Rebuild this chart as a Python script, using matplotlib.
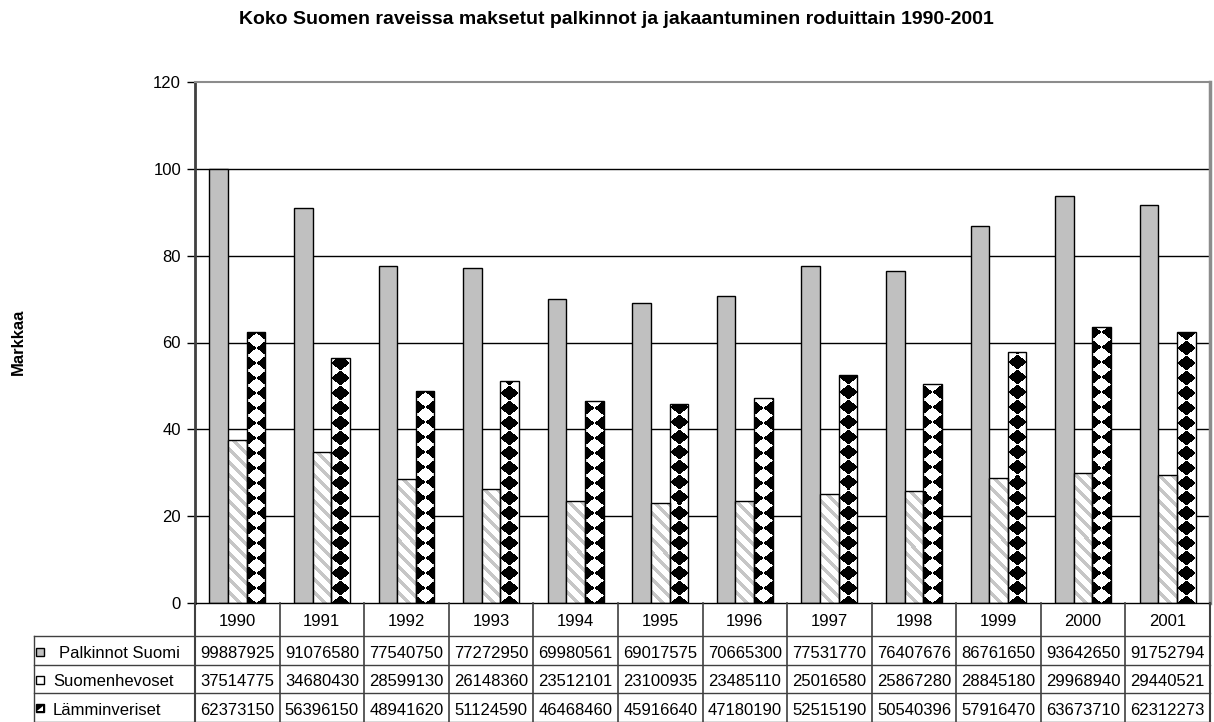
import numpy as np
import matplotlib
matplotlib.use("Agg")
import matplotlib.pyplot as plt
from matplotlib.patches import Rectangle, Polygon
from matplotlib.lines import Line2D
from matplotlib.colors import ListedColormap
import matplotlib.transforms as mtransforms

years = ["1990", "1991", "1992", "1993", "1994", "1995", "1996", "1997", "1998", "1999", "2000", "2001"]
palkinnot_suomi = [99887925, 91076580, 77540750, 77272950, 69980561, 69017575,
                   70665300, 77531770, 76407676, 86761650, 93642650, 91752794]
suomenhevoset = [37514775, 34680430, 28599130, 26148360, 23512101, 23100935,
                 23485110, 25016580, 25867280, 28845180, 29968940, 29440521]
lamminveriset = [62373150, 56396150, 48941620, 51124590, 46468460, 45916640,
                 47180190, 52515190, 50540396, 57916470, 63673710, 62312273]
series_names = ["Palkinnot Suomi", "Suomenhevoset", "Lämminveriset"]
title = "Koko Suomen raveissa maksetut palkinnot ja jakaantuminen roduittain 1990-2001"
ylabel = "Markkaa"
yticks = [0, 20, 40, 60, 80, 100, 120]

plt.rcParams['font.family'] = ['Liberation Sans', 'DejaVu Sans']

W, H = 1214, 722
fig = plt.figure(figsize=(W / 100, H / 100), dpi=100)
fig.patch.set_facecolor('white')

def fx(px):
    return px / W

def fy(py):
    return 1 - py / H

ax_l, ax_r, ax_t, ax_b = 195, 1210, 82, 603
ax = fig.add_axes([fx(ax_l), fy(ax_b), fx(ax_r - ax_l), (ax_b - ax_t) / H])
ax.set_xlim(-0.5, len(years) - 0.5)
ax.set_ylim(0, 120)

x = np.arange(len(years))
bw = 0.22
scale = 1e6
v1 = np.array(palkinnot_suomi) / scale
v2 = np.array(suomenhevoset) / scale
v3 = np.array(lamminveriset) / scale

# gridlines
for t in yticks[1:-1]:
    ax.axhline(t, color='black', lw=1.0, zorder=1)

b1 = ax.bar(x - bw, v1, bw, color='#c0c0c0', edgecolor='black', lw=1.0, zorder=2)
b2 = ax.bar(x, v2, bw, color='white', lw=0, zorder=2)
b3 = ax.bar(x + bw, v3, bw, color='white', lw=0, zorder=2)

fig.canvas.draw()

def bar_pixels(rect):
    bb = rect.get_window_extent()
    wpx = max(int(round(bb.width)), 1)
    hpx = max(int(round(bb.height)), 1)
    uu = np.arange(wpx) + 0.5 - wpx / 2.0
    vv = np.arange(hpx)[::-1] + 0.5
    U, V = np.meshgrid(uu, vv)
    return wpx, hpx, U, V

stripe_cmap = ListedColormap(['#c6c6c6', 'white'])
# light diagonal stripes for the second series
for i, rect in enumerate(b2):
    wpx, hpx, U, V = bar_pixels(rect)
    period = 13.0
    stripe = np.mod(U + V, period) < 5.0
    img = np.where(stripe, 0.0, 1.0)
    x0 = rect.get_x()
    im = ax.imshow(img, cmap=stripe_cmap, vmin=0, vmax=1,
                   extent=[x0, x0 + rect.get_width(), 0, rect.get_height()],
                   aspect='auto', interpolation='nearest', zorder=2.5)
    im.set_clip_path(rect)

# rotated-checkerboard texture for the third series
for i, rect in enumerate(b3):
    wpx, hpx, U, V = bar_pixels(rect)
    aw = wpx
    bh = 15.0
    shift = 0.0 if i % 2 == 0 else aw / 2.0
    p = np.floor((U + shift) / aw + V / bh)
    q = np.floor((U + shift) / aw - V / bh)
    black = ((p + q) % 2) == 0
    img = np.where(black, 0.0, 1.0)
    x0 = rect.get_x()
    im = ax.imshow(img, cmap='gray', vmin=0, vmax=1,
                   extent=[x0, x0 + rect.get_width(), 0, rect.get_height()],
                   aspect='auto', interpolation='nearest', zorder=2.5)
    im.set_clip_path(rect)

ax.bar(x, v2, bw, color='none', edgecolor='black', lw=1.0, zorder=3.5)
ax.bar(x + bw, v3, bw, color='none', edgecolor='black', lw=1.0, zorder=3.5)
ax.set_xlim(-0.5, len(years) - 0.5)
ax.set_ylim(0, 120)

ax.set_yticks(yticks)
ax.set_yticklabels([str(t) for t in yticks], fontsize=12)
ax.tick_params(axis='y', direction='out', length=6, width=1, color='black', pad=4)
ax.set_xticks([])
ax.spines['left'].set_color('#404040')
ax.spines['left'].set_linewidth(2)
ax.spines['bottom'].set_color('black')
ax.spines['bottom'].set_linewidth(1)
ax.spines['top'].set_color('#8c8c8c')
ax.spines['top'].set_linewidth(1.5)
ax.spines['right'].set_color('#8c8c8c')
ax.spines['right'].set_linewidth(2.5)
for sp in ax.spines.values():
    sp.set_zorder(4)

# title and y label
fig.text(fx(616), fy(20), title, ha='center', va='center', fontsize=14, fontweight='bold')
fig.text(fx(18), fy(342), ylabel, ha='center', va='center', rotation=90, fontsize=12, fontweight='bold')

# data table below the axes
trans = mtransforms.blended_transform_factory(ax.transData, fig.transFigure)
line_col = '#404040'
row_y = [603, 636, 665, 693, 721.5]
tab_left = 34
for yy in row_y[1:]:
    fig.add_artist(Line2D([fx(tab_left), fx(ax_r)], [fy(yy), fy(yy)], color=line_col, lw=1,
                          transform=fig.transFigure))
for i in range(len(years) + 1):
    xb = i - 0.5
    fig.add_artist(Line2D([xb, xb], [fy(row_y[0]), fy(row_y[-1])], color=line_col,
                          lw=1.2 if 0 < i < len(years) else 1.5, transform=trans))
fig.add_artist(Line2D([fx(tab_left), fx(tab_left)], [fy(row_y[1]), fy(row_y[-1])], color=line_col, lw=1,
                      transform=fig.transFigure))

for i, yr in enumerate(years):
    fig.text(i, fy((row_y[0] + row_y[1]) / 2 + 2), yr, ha='center', va='center', fontsize=12, transform=trans)

rows = [palkinnot_suomi, suomenhevoset, lamminveriset]
for r, vals in enumerate(rows):
    yc = fy((row_y[r + 1] + row_y[r + 2]) / 2 + 3)
    for i, v in enumerate(vals):
        fig.text(i, yc, str(v), ha='center', va='center', fontsize=12, transform=trans)

# row labels with legend keys
key_s = 8
label_x = [59, 53, 53]
for r, name in enumerate(series_names):
    yc_px = (row_y[r + 1] + row_y[r + 2]) / 2 + 3
    fig.text(fx(label_x[r]), fy(yc_px), name, ha='left', va='center', fontsize=12)
    ky = yc_px - 2
    kx = 36
    if r == 0:
        fig.add_artist(Rectangle((fx(kx), fy(ky + key_s / 2)), fx(key_s), key_s / H, facecolor='#c0c0c0',
                                 edgecolor='black', lw=1, transform=fig.transFigure))
    elif r == 1:
        fig.add_artist(Rectangle((fx(kx), fy(ky + key_s / 2)), fx(key_s), key_s / H, facecolor='white',
                                 edgecolor='black', lw=1, transform=fig.transFigure))
    else:
        fig.add_artist(Rectangle((fx(kx), fy(ky + key_s / 2)), fx(key_s), key_s / H, facecolor='black',
                                 edgecolor='black', lw=1, transform=fig.transFigure))
        fig.add_artist(Polygon([(fx(kx + 1), fy(ky + key_s / 2 - 1)), (fx(kx + key_s - 1), fy(ky + key_s / 2 - 1)),
                                (fx(kx + key_s - 1), fy(ky - key_s / 2 + 2))], closed=True, facecolor='white',
                               edgecolor='none', transform=fig.transFigure))

fig.savefig('out.png', dpi=100, facecolor='white')
